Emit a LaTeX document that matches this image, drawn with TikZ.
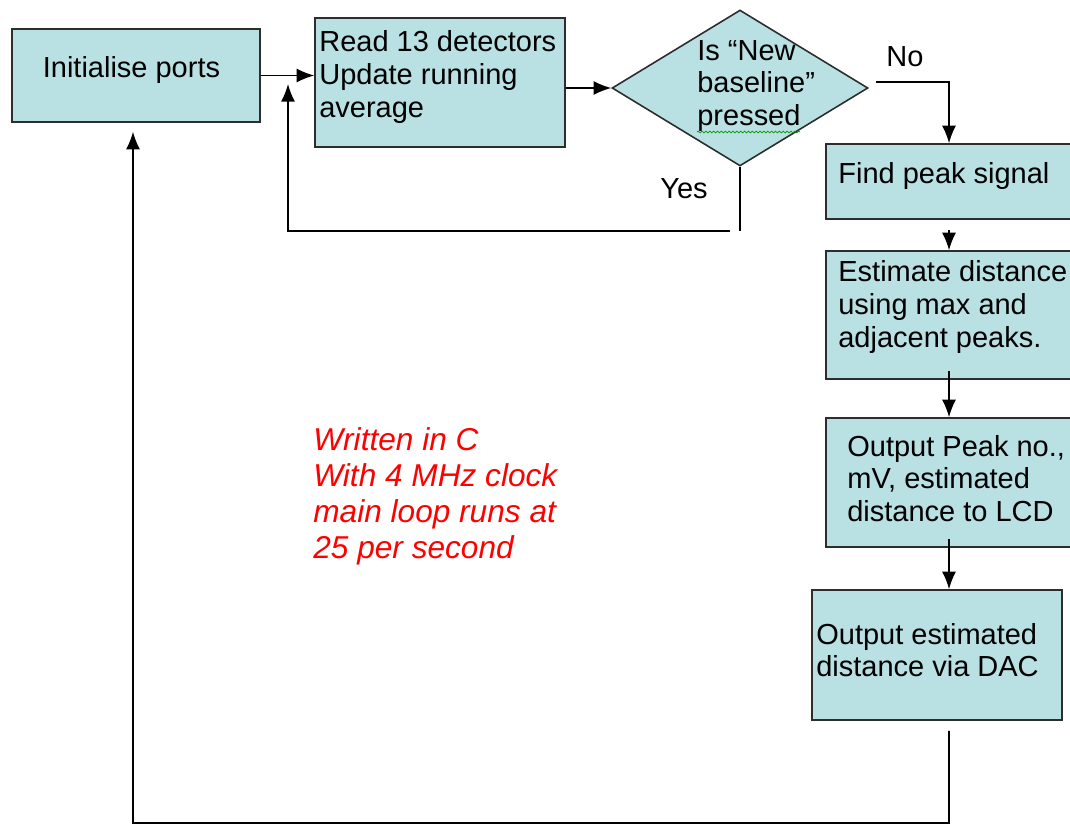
\documentclass[tikz,border=0pt]{standalone}
\usepackage{fontspec}
\setmainfont{Liberation Sans}
\usetikzlibrary{arrows.meta,shapes.geometric,decorations.pathmorphing}
\definecolor{boxfill}{RGB}{185,224,227}
\definecolor{boxline}{RGB}{45,45,45}
\newcommand{\boxfont}{\fontsize{16.5}{18.6}\selectfont}
\newcommand{\notefont}{\fontsize{18}{20.4}\selectfont\itshape}

\begin{document}
\begin{tikzpicture}[x=0.02cm, y=-0.02cm,
    box/.style={draw=boxline, fill=boxfill, line width=0.9pt, inner sep=0pt},
    decbox/.style={diamond, draw=boxline, fill=boxfill, line width=0.9pt, inner sep=0pt},
    txt/.style={font=\boxfont, align=left, anchor=west, inner sep=0pt},
    flow/.style={line width=0.9pt, -{Latex[length=10pt,width=8pt]}},
    link/.style={line width=0.9pt}]
    \useasboundingbox (0,0) rectangle (1070,825);
    \clip (0,0) rectangle (1070,825);

    \node[box, minimum width=4.96cm, minimum height=1.86cm] (init) at (136,75.5) {};
    \node[box, minimum width=5cm, minimum height=2.58cm] (read) at (440,82.5) {};
    \node[decbox, minimum width=5.12cm, minimum height=3.12cm] (dec) at (740,88) {};
    \node[box, minimum width=4.92cm, minimum height=1.5cm] (find) at (949,181.5) {};
    \node[box, minimum width=4.92cm, minimum height=2.56cm] (est) at (949,315) {};
    \node[box, minimum width=4.92cm, minimum height=2.58cm] (out) at (949,482.5) {};
    \node[box, minimum width=5cm, minimum height=2.6cm] (dac) at (937,655) {};

    \node[txt, anchor=center] (inittxt) at (131.5,70) {Initialise ports};
    \node[txt] (readtxt) at (319,77) {Read 13 detectors\\Update running\\average};
    \node[txt] (dectxt) at (697,86) {Is “New\\baseline”\\pressed};
    \node[txt] (findtxt) at (838,176) {Find peak signal};
    \node[txt] (esttxt) at (838,307) {Estimate distance\\using max and\\adjacent peaks.};
    \node[txt] (outtxt) at (847,478.5) {Output Peak no.,\\mV, estimated\\distance to LCD};
    \node[txt] (dactxt) at (816,650) {Output estimated\\distance via DAC};
    \node[txt, anchor=center] (nolbl) at (905,57) {No};
    \node[txt, anchor=center] (yeslbl) at (684,189) {Yes};
    \node[txt, font=\notefont, text=red] (note) at (313,496.5)
        {Written in C\\With 4 MHz clock\\main loop runs at\\25 per second};

    \draw[green!60!black, line width=0.4pt, decorate,
        decoration={snake, amplitude=0.5pt, segment length=2.2pt}] (697,132) -- (800,132);

    \coordinate (yesend) at (740,231);
    \coordinate (backtip) at (288,84);
    \coordinate (corner) at (133,823);

    \draw[flow] (init.east) -- (init.east -| read.west);
    \draw[flow] (read.east |- dec.west) -- (dec.west);
    \draw[flow] ([xshift=0.14cm,yshift=0.12cm]dec.east) -| (find.north);
    \draw[link] (dec.south) -- (yesend);
    \draw[flow] ([xshift=-0.2cm]yesend) -| (backtip);
    \draw[flow] ([yshift=-0.2cm]find.south) -- (est.north);
    \draw[flow] ([yshift=0.18cm]est.south) -- (out.north);
    \draw[flow] ([yshift=0.18cm]out.south) -- (out.south |- dac.north);
    \draw[flow] ([yshift=-0.2cm]out.south |- dac.south) |- (corner)
        -- ([xshift=-0.06cm,yshift=-0.18cm]init.south);
\end{tikzpicture}
\end{document}
